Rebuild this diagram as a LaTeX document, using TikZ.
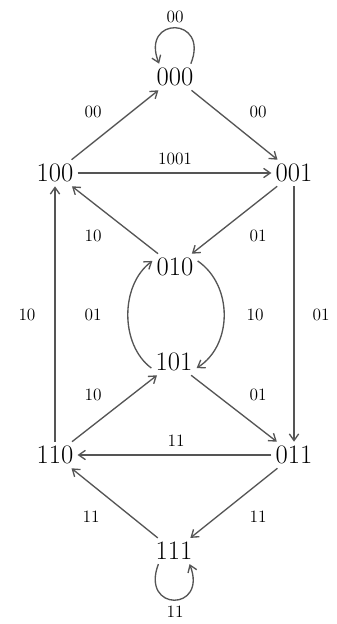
\documentclass[tikz,border=0pt]{standalone}
\usepackage{tikz}
\usetikzlibrary{arrows.meta}
\definecolor{edgegray}{RGB}{85,85,85}

\begin{document}
\begin{tikzpicture}[x=0.75pt,y=0.75pt,yscale=-1,xscale=1,
  state/.style={inner sep=3pt,font=\fontsize{20}{22}\selectfont},
  trans/.style={draw=edgegray,line width=1pt,-{Straight Barb[length=5pt,width=7pt]}},
  lbl/.style={inner sep=0.75pt,font=\fontsize{13}{15}\selectfont}]
\useasboundingbox (0,0) rectangle (336,624);

% States
\node[state] (s000) at (175,77) {000};
\node[state] (s100) at (55,173) {100};
\node[state] (s001) at (294,173) {001};
\node[state] (s010) at (175,267) {010};
\node[state] (s101) at (174,362) {101};
\node[state] (s110) at (55,455) {110};
\node[state] (s011) at (294,455) {011};
\node[state] (s111) at (174,551) {111};

% Transitions
\draw[trans] (s100) -- (s000);
\draw[trans] (s000) -- (s001);
\draw[trans] (s100) -- (s001);
\draw[trans] (s010) -- (s100);
\draw[trans] (s001) -- (s010);
\draw[trans] (s110) -- (s100);
\draw[trans] (s001) -- (s011);
\draw[trans] (s101.195) .. controls (120,345) and (120,285) .. (s010.165);
\draw[trans] (s010.15) .. controls (233,285) and (233,345) .. (s101.-15);
\draw[trans] (s110) -- (s101);
\draw[trans] (s101) -- (s011);
\draw[trans] (s011) -- (s110);
\draw[trans] (s011) -- (s111);
\draw[trans] (s111) -- (s110);
% self loops
\draw[trans] (s000.40) .. controls (210,16) and (140,16) .. (s000.140);
\draw[trans] (s111.220) .. controls (140,612) and (208,612) .. (s111.-40);

% Labels
\node[lbl] (l000) at (175,17) {00};
\node[lbl] (l100a) at (93,112) {00};
\node[lbl] (l001a) at (258,112) {00};
\node[lbl] (l1001) at (175,159) {1001};
\node[lbl] (l010a) at (93,236) {10};
\node[lbl] (l001b) at (258,236) {01};
\node[lbl] (l110a) at (27,315) {10};
\node[lbl] (l101a) at (93,315) {01};
\node[lbl] (l010b) at (255,315) {10};
\node[lbl] (l001c) at (321,315) {01};
\node[lbl] (l110b) at (93,395) {10};
\node[lbl] (l101b) at (258,395) {01};
\node[lbl] (l011a) at (176,441) {11};
\node[lbl] (l111a) at (91,517) {11};
\node[lbl] (l011b) at (258,517) {11};
\node[lbl] (l111b) at (175,612) {11};

\end{tikzpicture}
\end{document}
